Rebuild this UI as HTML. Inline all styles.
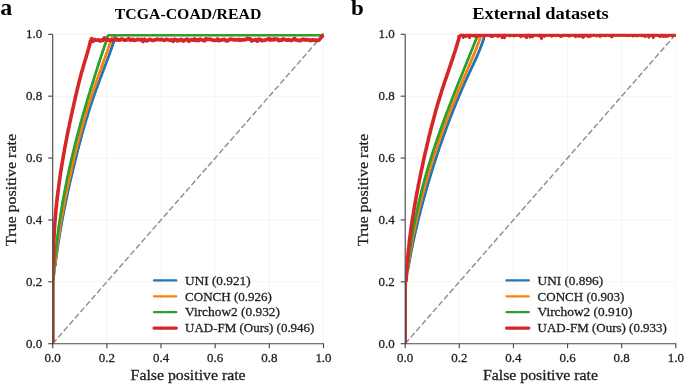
<!DOCTYPE html>
<html><head><meta charset="utf-8"><title>ROC curves</title>
<style>html,body{margin:0;padding:0;background:#fff;width:685px;height:384px;overflow:hidden}</style>
</head><body>
<svg width="685" height="384" viewBox="0 0 685 384" style="font-family:'Liberation Serif',serif;display:block;will-change:transform">
<style>.t{fill:#1e1e1e;stroke:#1e1e1e;stroke-width:0.28px}</style>
<rect width="685" height="384" fill="#fff"/>
<text x="0.2" y="14.9" font-size="24" font-weight="bold" fill="#000">a</text>
<text transform="translate(351.0,14.9) scale(1.1,1)" font-size="20.9" font-weight="bold" fill="#000">b</text>
<line x1="106.86" y1="34.3" x2="106.86" y2="343.7" stroke="#000" stroke-opacity="0.045" stroke-width="1"/>
<line x1="52.7" y1="281.82" x2="323.5" y2="281.82" stroke="#000" stroke-opacity="0.045" stroke-width="1"/>
<line x1="161.02" y1="34.3" x2="161.02" y2="343.7" stroke="#000" stroke-opacity="0.045" stroke-width="1"/>
<line x1="52.7" y1="219.94" x2="323.5" y2="219.94" stroke="#000" stroke-opacity="0.045" stroke-width="1"/>
<line x1="215.18" y1="34.3" x2="215.18" y2="343.7" stroke="#000" stroke-opacity="0.045" stroke-width="1"/>
<line x1="52.7" y1="158.06" x2="323.5" y2="158.06" stroke="#000" stroke-opacity="0.045" stroke-width="1"/>
<line x1="269.34" y1="34.3" x2="269.34" y2="343.7" stroke="#000" stroke-opacity="0.045" stroke-width="1"/>
<line x1="52.7" y1="96.18" x2="323.5" y2="96.18" stroke="#000" stroke-opacity="0.045" stroke-width="1"/>
<line x1="323.50" y1="34.3" x2="323.50" y2="343.7" stroke="#000" stroke-opacity="0.045" stroke-width="1"/>
<line x1="52.7" y1="34.30" x2="323.5" y2="34.30" stroke="#000" stroke-opacity="0.045" stroke-width="1"/>
<line x1="52.7" y1="343.7" x2="323.5" y2="34.3" stroke="#8c8c8c" stroke-width="1.4" stroke-dasharray="5.8,2.63"/>
<clipPath id="clipa"><rect x="52.7" y="30.299999999999997" width="274.8" height="313.4"/></clipPath>
<g clip-path="url(#clipa)">
<path d="M53.0,343.7L53.3,340.6L53.3,281.8" fill="none" stroke="#1f77b4" stroke-width="2.0"/><path d="M53.3,281.8L53.8,279.6L54.0,277.3L54.2,275.0L54.4,272.8L54.7,270.5L54.9,268.2L55.2,266.0L55.5,263.7L55.8,261.4L56.0,259.2L56.3,256.9L56.6,254.7L57.0,252.4L57.3,250.1L57.6,247.9L57.9,245.6L58.3,243.3L58.6,241.1L59.0,238.8L59.3,236.6L59.7,234.3L60.1,232.0L60.5,229.8L60.9,227.5L61.3,225.2L61.7,223.0L62.1,220.7L62.5,218.4L62.9,216.2L63.4,213.9L63.8,211.7L64.2,209.4L64.7,207.1L65.2,204.9L65.6,202.6L66.1,200.3L66.6,198.1L67.0,195.8L67.5,193.5L68.0,191.3L68.5,189.0L69.0,186.8L69.5,184.5L70.0,182.2L70.6,180.0L71.1,177.7L71.6,175.4L72.1,173.2L72.7,170.9L73.2,168.6L73.8,166.4L74.3,164.1L74.9,161.9L75.4,159.6L76.0,157.3L76.6,155.1L77.1,152.8L77.7,150.5L78.3,148.3L78.9,146.0L79.5,143.7L80.1,141.5L80.7,139.2L81.3,137.0L81.9,134.7L82.5,132.4L83.2,130.2L83.8,127.9L84.5,125.6L85.1,123.4L85.8,121.1L86.5,118.9L87.2,116.6L87.9,114.3L88.6,112.1L89.3,109.8L90.0,107.5L90.7,105.3L91.5,103.0L92.3,100.7L93.0,98.5L93.8,96.2L94.6,94.0L95.4,91.7L96.2,89.4L97.1,87.2L97.9,84.9L98.7,82.6L99.6,80.4L100.4,78.1L101.3,75.8L102.1,73.6L103.0,71.3L103.9,69.1L104.7,66.8L105.6,64.5L106.4,62.3L107.3,60.0L108.1,57.7L109.0,55.5L109.8,53.2L110.6,50.9L111.4,48.7L112.2,46.4L112.9,44.2L113.7,41.9L114.4,39.6L115.1,37.4L115.4,35.1" fill="none" stroke="#1f77b4" stroke-width="2.0" stroke-linejoin="round"/><path d="M55.2,266.0L55.5,263.7L55.8,261.4L56.0,259.2L56.3,256.9L56.6,254.7L57.0,252.4L57.3,250.1L57.6,247.9L57.9,245.6L58.3,243.3L58.6,241.1L59.0,238.8L59.3,236.6L59.7,234.3L60.1,232.0L60.5,229.8L60.9,227.5L61.3,225.2L61.7,223.0L62.1,220.7L62.5,218.4L62.9,216.2L63.4,213.9L63.8,211.7L64.2,209.4L64.7,207.1L65.2,204.9L65.6,202.6L66.1,200.3L66.6,198.1L67.0,195.8L67.5,193.5L68.0,191.3L68.5,189.0L69.0,186.8L69.5,184.5L70.0,182.2L70.6,180.0L71.1,177.7L71.6,175.4L72.1,173.2L72.7,170.9L73.2,168.6L73.8,166.4L74.3,164.1L74.9,161.9L75.4,159.6L76.0,157.3L76.6,155.1L77.1,152.8L77.7,150.5L78.3,148.3L78.9,146.0L79.5,143.7L80.1,141.5L80.7,139.2L81.3,137.0L81.9,134.7L82.5,132.4L83.2,130.2L83.8,127.9L84.5,125.6L85.1,123.4L85.8,121.1L86.5,118.9L87.2,116.6L87.9,114.3L88.6,112.1L89.3,109.8L90.0,107.5L90.7,105.3L91.5,103.0L92.3,100.7L93.0,98.5L93.8,96.2L94.6,94.0L95.4,91.7L96.2,89.4L97.1,87.2L97.9,84.9L98.7,82.6L99.6,80.4L100.4,78.1L101.3,75.8L102.1,73.6L103.0,71.3L103.9,69.1L104.7,66.8L105.6,64.5L106.4,62.3L107.3,60.0L108.1,57.7L109.0,55.5L109.8,53.2L110.6,50.9L111.4,48.7L112.2,46.4L112.9,44.2L113.7,41.9L114.4,39.6L115.1,37.4L115.4,35.1" fill="none" stroke="#1f77b4" stroke-width="2.7" stroke-linejoin="round"/><path d="M115.4,35.1L323.5,35.1" fill="none" stroke="#1f77b4" stroke-width="2.2" stroke-linejoin="round"/>
<path d="M53.0,343.7L53.3,340.6L53.3,281.8" fill="none" stroke="#ff7f0e" stroke-width="2.0"/><path d="M53.3,281.8L53.7,279.6L53.9,277.3L54.1,275.0L54.3,272.8L54.5,270.5L54.7,268.2L54.9,266.0L55.2,263.7L55.4,261.4L55.7,259.2L55.9,256.9L56.2,254.7L56.5,252.4L56.7,250.1L57.0,247.9L57.3,245.6L57.6,243.3L58.0,241.1L58.3,238.8L58.6,236.6L59.0,234.3L59.3,232.0L59.6,229.8L60.0,227.5L60.4,225.2L60.7,223.0L61.1,220.7L61.5,218.4L61.9,216.2L62.3,213.9L62.7,211.7L63.1,209.4L63.6,207.1L64.0,204.9L64.4,202.6L64.8,200.3L65.3,198.1L65.7,195.8L66.2,193.5L66.7,191.3L67.1,189.0L67.6,186.8L68.1,184.5L68.6,182.2L69.1,180.0L69.6,177.7L70.1,175.4L70.6,173.2L71.1,170.9L71.6,168.6L72.1,166.4L72.7,164.1L73.2,161.9L73.7,159.6L74.3,157.3L74.8,155.1L75.4,152.8L76.0,150.5L76.5,148.3L77.1,146.0L77.7,143.7L78.2,141.5L78.8,139.2L79.4,137.0L80.0,134.7L80.6,132.4L81.3,130.2L81.9,127.9L82.5,125.6L83.1,123.4L83.8,121.1L84.4,118.9L85.1,116.6L85.8,114.3L86.4,112.1L87.1,109.8L87.8,107.5L88.5,105.3L89.2,103.0L90.0,100.7L90.7,98.5L91.4,96.2L92.2,94.0L92.9,91.7L93.7,89.4L94.5,87.2L95.3,84.9L96.0,82.6L96.8,80.4L97.6,78.1L98.4,75.8L99.2,73.6L100.1,71.3L100.9,69.1L101.7,66.8L102.5,64.5L103.3,62.3L104.1,60.0L105.0,57.7L105.8,55.5L106.6,53.2L107.4,50.9L108.2,48.7L109.0,46.4L109.8,44.2L110.6,41.9L111.3,39.6L112.1,37.4L112.4,35.1" fill="none" stroke="#ff7f0e" stroke-width="2.0" stroke-linejoin="round"/><path d="M55.2,263.7L55.4,261.4L55.7,259.2L55.9,256.9L56.2,254.7L56.5,252.4L56.7,250.1L57.0,247.9L57.3,245.6L57.6,243.3L58.0,241.1L58.3,238.8L58.6,236.6L59.0,234.3L59.3,232.0L59.6,229.8L60.0,227.5L60.4,225.2L60.7,223.0L61.1,220.7L61.5,218.4L61.9,216.2L62.3,213.9L62.7,211.7L63.1,209.4L63.6,207.1L64.0,204.9L64.4,202.6L64.8,200.3L65.3,198.1L65.7,195.8L66.2,193.5L66.7,191.3L67.1,189.0L67.6,186.8L68.1,184.5L68.6,182.2L69.1,180.0L69.6,177.7L70.1,175.4L70.6,173.2L71.1,170.9L71.6,168.6L72.1,166.4L72.7,164.1L73.2,161.9L73.7,159.6L74.3,157.3L74.8,155.1L75.4,152.8L76.0,150.5L76.5,148.3L77.1,146.0L77.7,143.7L78.2,141.5L78.8,139.2L79.4,137.0L80.0,134.7L80.6,132.4L81.3,130.2L81.9,127.9L82.5,125.6L83.1,123.4L83.8,121.1L84.4,118.9L85.1,116.6L85.8,114.3L86.4,112.1L87.1,109.8L87.8,107.5L88.5,105.3L89.2,103.0L90.0,100.7L90.7,98.5L91.4,96.2L92.2,94.0L92.9,91.7L93.7,89.4L94.5,87.2L95.3,84.9L96.0,82.6L96.8,80.4L97.6,78.1L98.4,75.8L99.2,73.6L100.1,71.3L100.9,69.1L101.7,66.8L102.5,64.5L103.3,62.3L104.1,60.0L105.0,57.7L105.8,55.5L106.6,53.2L107.4,50.9L108.2,48.7L109.0,46.4L109.8,44.2L110.6,41.9L111.3,39.6L112.1,37.4L112.4,35.1" fill="none" stroke="#ff7f0e" stroke-width="2.7" stroke-linejoin="round"/><path d="M112.4,35.1L323.5,35.1" fill="none" stroke="#ff7f0e" stroke-width="2.2" stroke-linejoin="round"/>
<path d="M53.0,343.7L53.3,340.6L53.3,281.8" fill="none" stroke="#2ca02c" stroke-width="2.0"/><path d="M53.3,281.8L53.7,279.6L53.8,277.3L53.9,275.0L54.1,272.8L54.2,270.5L54.4,268.2L54.6,266.0L54.7,263.7L54.9,261.4L55.1,259.2L55.3,256.9L55.5,254.7L55.8,252.4L56.0,250.1L56.2,247.9L56.5,245.6L56.7,243.3L57.0,241.1L57.3,238.8L57.5,236.6L57.8,234.3L58.1,232.0L58.4,229.8L58.7,227.5L59.0,225.2L59.4,223.0L59.7,220.7L60.0,218.4L60.4,216.2L60.7,213.9L61.1,211.7L61.5,209.4L61.8,207.1L62.2,204.9L62.6,202.6L63.0,200.3L63.4,198.1L63.8,195.8L64.3,193.5L64.7,191.3L65.1,189.0L65.6,186.8L66.0,184.5L66.5,182.2L66.9,180.0L67.4,177.7L67.9,175.4L68.4,173.2L68.8,170.9L69.3,168.6L69.8,166.4L70.4,164.1L70.9,161.9L71.4,159.6L71.9,157.3L72.5,155.1L73.0,152.8L73.6,150.5L74.1,148.3L74.7,146.0L75.3,143.7L75.8,141.5L76.4,139.2L77.0,137.0L77.6,134.7L78.2,132.4L78.8,130.2L79.4,127.9L80.0,125.6L80.6,123.4L81.3,121.1L81.9,118.9L82.5,116.6L83.2,114.3L83.8,112.1L84.5,109.8L85.1,107.5L85.8,105.3L86.5,103.0L87.1,100.7L87.8,98.5L88.5,96.2L89.2,94.0L89.9,91.7L90.6,89.4L91.3,87.2L92.0,84.9L92.7,82.6L93.4,80.4L94.1,78.1L94.8,75.8L95.5,73.6L96.3,71.3L97.0,69.1L97.7,66.8L98.4,64.5L99.2,62.3L99.9,60.0L100.7,57.7L101.4,55.5L102.2,53.2L102.9,50.9L103.7,48.7L104.4,46.4L105.2,44.2L106.0,41.9L106.7,39.6L107.5,37.4L107.8,35.1" fill="none" stroke="#2ca02c" stroke-width="2.0" stroke-linejoin="round"/><path d="M55.3,256.9L55.5,254.7L55.8,252.4L56.0,250.1L56.2,247.9L56.5,245.6L56.7,243.3L57.0,241.1L57.3,238.8L57.5,236.6L57.8,234.3L58.1,232.0L58.4,229.8L58.7,227.5L59.0,225.2L59.4,223.0L59.7,220.7L60.0,218.4L60.4,216.2L60.7,213.9L61.1,211.7L61.5,209.4L61.8,207.1L62.2,204.9L62.6,202.6L63.0,200.3L63.4,198.1L63.8,195.8L64.3,193.5L64.7,191.3L65.1,189.0L65.6,186.8L66.0,184.5L66.5,182.2L66.9,180.0L67.4,177.7L67.9,175.4L68.4,173.2L68.8,170.9L69.3,168.6L69.8,166.4L70.4,164.1L70.9,161.9L71.4,159.6L71.9,157.3L72.5,155.1L73.0,152.8L73.6,150.5L74.1,148.3L74.7,146.0L75.3,143.7L75.8,141.5L76.4,139.2L77.0,137.0L77.6,134.7L78.2,132.4L78.8,130.2L79.4,127.9L80.0,125.6L80.6,123.4L81.3,121.1L81.9,118.9L82.5,116.6L83.2,114.3L83.8,112.1L84.5,109.8L85.1,107.5L85.8,105.3L86.5,103.0L87.1,100.7L87.8,98.5L88.5,96.2L89.2,94.0L89.9,91.7L90.6,89.4L91.3,87.2L92.0,84.9L92.7,82.6L93.4,80.4L94.1,78.1L94.8,75.8L95.5,73.6L96.3,71.3L97.0,69.1L97.7,66.8L98.4,64.5L99.2,62.3L99.9,60.0L100.7,57.7L101.4,55.5L102.2,53.2L102.9,50.9L103.7,48.7L104.4,46.4L105.2,44.2L106.0,41.9L106.7,39.6L107.5,37.4L107.8,35.1" fill="none" stroke="#2ca02c" stroke-width="2.7" stroke-linejoin="round"/><path d="M107.8,35.1L323.5,35.1" fill="none" stroke="#2ca02c" stroke-width="2.2" stroke-linejoin="round"/>
<path d="M53.0,343.7L53.3,340.6L53.3,266.4" fill="none" stroke="#d62728" stroke-width="2.0"/><path d="M53.3,266.4L53.4,264.3L53.4,262.2L53.4,260.1L53.4,258.0L53.5,256.0L53.5,253.9L53.5,251.8L53.6,249.7L53.6,247.6L53.7,245.6L53.7,243.5L53.8,241.4L53.9,239.3L54.0,237.3L54.1,235.2L54.2,233.1L54.3,231.0L54.5,228.9L54.6,226.9L54.7,224.8L54.9,222.7L55.0,220.6L55.2,218.6L55.4,216.5L55.6,214.4L55.8,212.3L55.9,210.2L56.1,208.2L56.4,206.1L56.6,204.0L56.8,201.9L57.0,199.9L57.3,197.8L57.5,195.7L57.8,193.6L58.0,191.5L58.3,189.5L58.6,187.4L58.8,185.3L59.1,183.2L59.4,181.2L59.7,179.1L60.0,177.0L60.3,174.9L60.6,172.8L60.9,170.8L61.3,168.7L61.6,166.6L61.9,164.5L62.3,162.5L62.6,160.4L63.0,158.3L63.3,156.2L63.7,154.1L64.1,152.1L64.4,150.0L64.8,147.9L65.2,145.8L65.6,143.8L66.0,141.7L66.4,139.6L66.8,137.5L67.2,135.4L67.6,133.4L68.0,131.3L68.4,129.2L68.9,127.1L69.3,125.1L69.7,123.0L70.2,120.9L70.6,118.8L71.1,116.7L71.5,114.7L72.0,112.6L72.4,110.5L72.9,108.4L73.4,106.4L73.8,104.3L74.3,102.2L74.8,100.1L75.2,98.0L75.7,96.0L76.2,93.9L76.7,91.8L77.2,89.7L77.7,87.7L78.2,85.6L78.7,83.5L79.2,81.4L79.8,79.3L80.3,77.3L80.8,75.2L81.4,73.1L82.0,71.0L82.6,69.0L83.2,66.9L83.8,64.8L84.4,62.7L85.0,60.6L85.7,58.6L86.3,56.5L86.9,54.4L87.5,52.3L88.1,50.3L88.7,48.2L89.3,46.1L89.8,44.0L90.3,41.9L90.5,39.9" fill="none" stroke="#d62728" stroke-width="2.0" stroke-linejoin="round"/><path d="M53.3,266.4L53.4,264.3L53.4,262.2L53.4,260.1L53.4,258.0L53.5,256.0L53.5,253.9L53.5,251.8L53.6,249.7L53.6,247.6L53.7,245.6L53.7,243.5L53.8,241.4L53.9,239.3L54.0,237.3L54.1,235.2L54.2,233.1L54.3,231.0L54.5,228.9L54.6,226.9L54.7,224.8L54.9,222.7L55.0,220.6L55.2,218.6L55.4,216.5L55.6,214.4L55.8,212.3L55.9,210.2L56.1,208.2L56.4,206.1L56.6,204.0L56.8,201.9L57.0,199.9L57.3,197.8L57.5,195.7L57.8,193.6L58.0,191.5L58.3,189.5L58.6,187.4L58.8,185.3L59.1,183.2L59.4,181.2L59.7,179.1L60.0,177.0L60.3,174.9L60.6,172.8L60.9,170.8L61.3,168.7L61.6,166.6L61.9,164.5L62.3,162.5L62.6,160.4L63.0,158.3L63.3,156.2L63.7,154.1L64.1,152.1L64.4,150.0L64.8,147.9L65.2,145.8L65.6,143.8L66.0,141.7L66.4,139.6L66.8,137.5L67.2,135.4L67.6,133.4L68.0,131.3L68.4,129.2L68.9,127.1L69.3,125.1L69.7,123.0L70.2,120.9L70.6,118.8L71.1,116.7L71.5,114.7L72.0,112.6L72.4,110.5L72.9,108.4L73.4,106.4L73.8,104.3L74.3,102.2L74.8,100.1L75.2,98.0L75.7,96.0L76.2,93.9L76.7,91.8L77.2,89.7L77.7,87.7L78.2,85.6L78.7,83.5L79.2,81.4L79.8,79.3L80.3,77.3L80.8,75.2L81.4,73.1L82.0,71.0L82.6,69.0L83.2,66.9L83.8,64.8L84.4,62.7L85.0,60.6L85.7,58.6L86.3,56.5L86.9,54.4L87.5,52.3L88.1,50.3L88.7,48.2L89.3,46.1L89.8,44.0L90.3,41.9L90.5,39.9" fill="none" stroke="#d62728" stroke-width="3.6" stroke-linejoin="round"/><path d="M90.5,39.9L91.6,38.7L93.0,41.3L94.4,39.6L95.8,40.2L97.3,40.1L98.7,40.0L100.1,41.0L101.6,40.0L103.0,40.4L104.4,38.0L105.9,39.7L107.3,40.1L108.7,40.0L110.1,40.2L111.6,40.5L113.0,40.1L114.4,39.6L115.9,40.0L117.3,39.3L118.7,40.0L120.2,39.9L121.6,39.0L123.0,39.6L124.4,40.2L125.9,40.0L127.3,39.6L128.7,38.8L130.2,40.0L131.6,40.0L133.0,39.3L134.5,40.4L135.9,40.0L137.3,39.4L138.7,39.5L140.2,39.8L141.6,39.5L143.0,41.4L144.5,39.3L145.9,40.4L147.3,40.8L148.8,39.7L150.2,39.5L151.6,40.1L153.0,40.5L154.5,39.9L155.9,39.9L157.3,39.1L158.8,39.5L160.2,39.8L161.6,39.3L163.0,40.0L164.5,40.4L165.9,39.5L167.3,39.5L168.8,40.0L170.2,40.3L171.6,39.7L173.1,41.3L174.5,39.5L175.9,39.6L177.3,40.8L178.8,39.8L180.2,40.4L181.6,39.4L183.1,41.0L184.5,40.4L185.9,39.5L187.4,39.2L188.8,41.1L190.2,40.1L191.6,39.7L193.1,40.2L194.5,39.0L195.9,40.5L197.4,39.7L198.8,40.5L200.2,39.1L201.7,39.9L203.1,40.1L204.5,40.8L205.9,38.9L207.4,39.4L208.8,39.4L210.2,39.2L211.7,39.7L213.1,40.2L214.5,40.3L216.0,40.3L217.4,39.1L218.8,40.7L220.2,40.2L221.7,40.0L223.1,39.7L224.5,39.5L226.0,40.6L227.4,40.8L228.8,39.9L230.2,39.2L231.7,39.4L233.1,39.7L234.5,40.0L236.0,39.7L237.4,40.0L238.8,39.4L240.3,40.3L241.7,39.8L243.1,39.9L244.5,39.6L246.0,39.7L247.4,38.4L248.8,39.0L250.3,39.0L251.7,41.0L253.1,40.1L254.6,40.2L256.0,39.6L257.4,41.1L258.8,39.2L260.3,39.3L261.7,40.6L263.1,40.4L264.6,40.3L266.0,39.8L267.4,39.5L268.9,38.7L270.3,40.0L271.7,39.4L273.1,39.8L274.6,38.9L276.0,39.5L277.4,39.1L278.9,40.5L280.3,40.0L281.7,40.3L283.2,39.0L284.6,39.5L286.0,40.0L287.4,40.1L288.9,39.6L290.3,40.3L291.7,40.4L293.2,39.6L294.6,38.5L296.0,40.0L297.4,40.2L298.9,40.5L300.3,40.6L301.7,39.6L303.2,39.4L304.6,39.9L306.0,39.7L307.5,39.8L308.9,39.8L310.3,40.7L311.7,40.1L313.2,39.8L314.6,40.3L316.0,40.1L317.5,40.3L318.9,40.1L323.1,35.1L323.5,35.1" fill="none" stroke="#d62728" stroke-width="3.8" stroke-linejoin="round"/>
</g>
<line x1="52.7" y1="34.3" x2="52.7" y2="344.2" stroke="#4a4a4a" stroke-width="1.15"/>
<line x1="52.2" y1="343.7" x2="324.0" y2="343.7" stroke="#4a4a4a" stroke-width="1.15"/>
<line x1="52.70" y1="343.7" x2="52.70" y2="348.2" stroke="#4a4a4a" stroke-width="1.15"/>
<text x="52.70" y="362.0" text-anchor="middle" font-size="13.2" textLength="16.2" lengthAdjust="spacingAndGlyphs" class="t">0.0</text>
<line x1="48.2" y1="343.70" x2="52.7" y2="343.70" stroke="#4a4a4a" stroke-width="1.15"/>
<text x="42.2" y="347.70" text-anchor="end" font-size="13.2" textLength="16.2" lengthAdjust="spacingAndGlyphs" class="t">0.0</text>
<line x1="106.86" y1="343.7" x2="106.86" y2="348.2" stroke="#4a4a4a" stroke-width="1.15"/>
<text x="106.86" y="362.0" text-anchor="middle" font-size="13.2" textLength="16.2" lengthAdjust="spacingAndGlyphs" class="t">0.2</text>
<line x1="48.2" y1="281.82" x2="52.7" y2="281.82" stroke="#4a4a4a" stroke-width="1.15"/>
<text x="42.2" y="285.82" text-anchor="end" font-size="13.2" textLength="16.2" lengthAdjust="spacingAndGlyphs" class="t">0.2</text>
<line x1="161.02" y1="343.7" x2="161.02" y2="348.2" stroke="#4a4a4a" stroke-width="1.15"/>
<text x="161.02" y="362.0" text-anchor="middle" font-size="13.2" textLength="16.2" lengthAdjust="spacingAndGlyphs" class="t">0.4</text>
<line x1="48.2" y1="219.94" x2="52.7" y2="219.94" stroke="#4a4a4a" stroke-width="1.15"/>
<text x="42.2" y="223.94" text-anchor="end" font-size="13.2" textLength="16.2" lengthAdjust="spacingAndGlyphs" class="t">0.4</text>
<line x1="215.18" y1="343.7" x2="215.18" y2="348.2" stroke="#4a4a4a" stroke-width="1.15"/>
<text x="215.18" y="362.0" text-anchor="middle" font-size="13.2" textLength="16.2" lengthAdjust="spacingAndGlyphs" class="t">0.6</text>
<line x1="48.2" y1="158.06" x2="52.7" y2="158.06" stroke="#4a4a4a" stroke-width="1.15"/>
<text x="42.2" y="162.06" text-anchor="end" font-size="13.2" textLength="16.2" lengthAdjust="spacingAndGlyphs" class="t">0.6</text>
<line x1="269.34" y1="343.7" x2="269.34" y2="348.2" stroke="#4a4a4a" stroke-width="1.15"/>
<text x="269.34" y="362.0" text-anchor="middle" font-size="13.2" textLength="16.2" lengthAdjust="spacingAndGlyphs" class="t">0.8</text>
<line x1="48.2" y1="96.18" x2="52.7" y2="96.18" stroke="#4a4a4a" stroke-width="1.15"/>
<text x="42.2" y="100.18" text-anchor="end" font-size="13.2" textLength="16.2" lengthAdjust="spacingAndGlyphs" class="t">0.8</text>
<line x1="323.50" y1="343.7" x2="323.50" y2="348.2" stroke="#4a4a4a" stroke-width="1.15"/>
<text x="323.50" y="362.0" text-anchor="middle" font-size="13.2" textLength="16.2" lengthAdjust="spacingAndGlyphs" class="t">1.0</text>
<line x1="48.2" y1="34.30" x2="52.7" y2="34.30" stroke="#4a4a4a" stroke-width="1.15"/>
<text x="42.2" y="38.30" text-anchor="end" font-size="13.2" textLength="16.2" lengthAdjust="spacingAndGlyphs" class="t">1.0</text>
<text x="188.10" y="19.2" text-anchor="middle" font-size="15.6" font-weight="bold" textLength="146.5" lengthAdjust="spacingAndGlyphs" fill="#000">TCGA-COAD/READ</text>
<text x="188.10" y="380.3" text-anchor="middle" font-size="13.9" textLength="115" lengthAdjust="spacingAndGlyphs" class="t">False positive rate</text>
<text transform="translate(15.60,190.00) rotate(-90)" x="0" y="0" text-anchor="middle" font-size="13.9" textLength="112" lengthAdjust="spacingAndGlyphs" class="t">True positive rate</text>
<line x1="154.00" y1="280.40" x2="176.30" y2="280.40" stroke="#1f77b4" stroke-width="2.3" stroke-linecap="round"/>
<text x="185.10" y="284.60" font-size="12.6" textLength="65.5" lengthAdjust="spacingAndGlyphs" class="t">UNI (0.921)</text>
<line x1="154.00" y1="296.30" x2="176.30" y2="296.30" stroke="#ff7f0e" stroke-width="2.3" stroke-linecap="round"/>
<text x="185.10" y="300.50" font-size="12.6" textLength="86.8" lengthAdjust="spacingAndGlyphs" class="t">CONCH (0.926)</text>
<line x1="154.00" y1="312.20" x2="176.30" y2="312.20" stroke="#2ca02c" stroke-width="2.3" stroke-linecap="round"/>
<text x="185.10" y="316.40" font-size="12.6" textLength="94.9" lengthAdjust="spacingAndGlyphs" class="t">Virchow2 (0.932)</text>
<line x1="154.00" y1="328.10" x2="176.30" y2="328.10" stroke="#d62728" stroke-width="3.3" stroke-linecap="round"/>
<text x="185.10" y="332.30" font-size="12.6" textLength="129.3" lengthAdjust="spacingAndGlyphs" class="t">UAD-FM (Ours) (0.946)</text>
<line x1="459.32" y1="34.3" x2="459.32" y2="343.7" stroke="#000" stroke-opacity="0.045" stroke-width="1"/>
<line x1="405.2" y1="281.82" x2="675.8" y2="281.82" stroke="#000" stroke-opacity="0.045" stroke-width="1"/>
<line x1="513.44" y1="34.3" x2="513.44" y2="343.7" stroke="#000" stroke-opacity="0.045" stroke-width="1"/>
<line x1="405.2" y1="219.94" x2="675.8" y2="219.94" stroke="#000" stroke-opacity="0.045" stroke-width="1"/>
<line x1="567.56" y1="34.3" x2="567.56" y2="343.7" stroke="#000" stroke-opacity="0.045" stroke-width="1"/>
<line x1="405.2" y1="158.06" x2="675.8" y2="158.06" stroke="#000" stroke-opacity="0.045" stroke-width="1"/>
<line x1="621.68" y1="34.3" x2="621.68" y2="343.7" stroke="#000" stroke-opacity="0.045" stroke-width="1"/>
<line x1="405.2" y1="96.18" x2="675.8" y2="96.18" stroke="#000" stroke-opacity="0.045" stroke-width="1"/>
<line x1="675.80" y1="34.3" x2="675.80" y2="343.7" stroke="#000" stroke-opacity="0.045" stroke-width="1"/>
<line x1="405.2" y1="34.30" x2="675.8" y2="34.30" stroke="#000" stroke-opacity="0.045" stroke-width="1"/>
<line x1="405.2" y1="343.7" x2="675.8" y2="34.3" stroke="#8c8c8c" stroke-width="1.4" stroke-dasharray="5.8,2.63"/>
<clipPath id="clipb"><rect x="405.2" y="30.299999999999997" width="274.59999999999997" height="313.4"/></clipPath>
<g clip-path="url(#clipb)">
<path d="M405.5,343.7L405.8,340.6L405.8,281.8" fill="none" stroke="#1f77b4" stroke-width="2.0"/><path d="M405.8,281.8L406.4,279.6L406.7,277.3L407.1,275.0L407.4,272.8L407.8,270.5L408.2,268.2L408.6,266.0L409.0,263.7L409.4,261.5L409.8,259.2L410.2,256.9L410.6,254.7L411.1,252.4L411.5,250.1L412.0,247.9L412.5,245.6L412.9,243.4L413.4,241.1L413.9,238.8L414.4,236.6L414.9,234.3L415.4,232.0L415.9,229.8L416.5,227.5L417.0,225.3L417.5,223.0L418.1,220.7L418.6,218.5L419.2,216.2L419.8,214.0L420.3,211.7L420.9,209.4L421.5,207.2L422.1,204.9L422.7,202.6L423.3,200.4L423.9,198.1L424.6,195.9L425.2,193.6L425.8,191.3L426.5,189.1L427.1,186.8L427.8,184.5L428.5,182.3L429.1,180.0L429.8,177.8L430.5,175.5L431.2,173.2L431.9,171.0L432.6,168.7L433.3,166.4L434.0,164.2L434.8,161.9L435.5,159.7L436.2,157.4L437.0,155.1L437.7,152.9L438.5,150.6L439.2,148.3L440.0,146.1L440.8,143.8L441.6,141.6L442.4,139.3L443.2,137.0L444.0,134.8L444.8,132.5L445.6,130.2L446.4,128.0L447.3,125.7L448.1,123.5L449.0,121.2L449.8,118.9L450.7,116.7L451.6,114.4L452.5,112.1L453.4,109.9L454.3,107.6L455.2,105.4L456.1,103.1L457.0,100.8L458.0,98.6L458.9,96.3L459.9,94.0L460.9,91.8L461.8,89.5L462.8,87.3L463.8,85.0L464.8,82.7L465.8,80.5L466.9,78.2L467.9,75.9L468.9,73.7L470.0,71.4L471.1,69.2L472.1,66.9L473.2,64.6L474.2,62.4L475.3,60.1L476.3,57.9L477.3,55.6L478.2,53.3L479.2,51.1L480.1,48.8L481.0,46.5L481.8,44.3L482.6,42.0L483.4,39.8L484.0,37.5L484.5,35.2" fill="none" stroke="#1f77b4" stroke-width="2.0" stroke-linejoin="round"/><path d="M407.8,270.5L408.2,268.2L408.6,266.0L409.0,263.7L409.4,261.5L409.8,259.2L410.2,256.9L410.6,254.7L411.1,252.4L411.5,250.1L412.0,247.9L412.5,245.6L412.9,243.4L413.4,241.1L413.9,238.8L414.4,236.6L414.9,234.3L415.4,232.0L415.9,229.8L416.5,227.5L417.0,225.3L417.5,223.0L418.1,220.7L418.6,218.5L419.2,216.2L419.8,214.0L420.3,211.7L420.9,209.4L421.5,207.2L422.1,204.9L422.7,202.6L423.3,200.4L423.9,198.1L424.6,195.9L425.2,193.6L425.8,191.3L426.5,189.1L427.1,186.8L427.8,184.5L428.5,182.3L429.1,180.0L429.8,177.8L430.5,175.5L431.2,173.2L431.9,171.0L432.6,168.7L433.3,166.4L434.0,164.2L434.8,161.9L435.5,159.7L436.2,157.4L437.0,155.1L437.7,152.9L438.5,150.6L439.2,148.3L440.0,146.1L440.8,143.8L441.6,141.6L442.4,139.3L443.2,137.0L444.0,134.8L444.8,132.5L445.6,130.2L446.4,128.0L447.3,125.7L448.1,123.5L449.0,121.2L449.8,118.9L450.7,116.7L451.6,114.4L452.5,112.1L453.4,109.9L454.3,107.6L455.2,105.4L456.1,103.1L457.0,100.8L458.0,98.6L458.9,96.3L459.9,94.0L460.9,91.8L461.8,89.5L462.8,87.3L463.8,85.0L464.8,82.7L465.8,80.5L466.9,78.2L467.9,75.9L468.9,73.7L470.0,71.4L471.1,69.2L472.1,66.9L473.2,64.6L474.2,62.4L475.3,60.1L476.3,57.9L477.3,55.6L478.2,53.3L479.2,51.1L480.1,48.8L481.0,46.5L481.8,44.3L482.6,42.0L483.4,39.8L484.0,37.5L484.5,35.2" fill="none" stroke="#1f77b4" stroke-width="2.7" stroke-linejoin="round"/><path d="M484.5,35.2L675.8,35.2" fill="none" stroke="#1f77b4" stroke-width="2.2" stroke-linejoin="round"/>
<path d="M405.5,343.7L405.8,340.6L405.8,281.8" fill="none" stroke="#ff7f0e" stroke-width="2.0"/><path d="M405.8,281.8L406.3,279.6L406.5,277.3L406.8,275.0L407.1,272.8L407.4,270.5L407.8,268.2L408.1,266.0L408.4,263.7L408.7,261.5L409.1,259.2L409.5,256.9L409.8,254.7L410.2,252.4L410.6,250.1L411.0,247.9L411.4,245.6L411.8,243.4L412.2,241.1L412.6,238.8L413.0,236.6L413.5,234.3L413.9,232.0L414.4,229.8L414.9,227.5L415.3,225.3L415.8,223.0L416.3,220.7L416.8,218.5L417.3,216.2L417.8,214.0L418.4,211.7L418.9,209.4L419.4,207.2L420.0,204.9L420.5,202.6L421.1,200.4L421.7,198.1L422.3,195.9L422.9,193.6L423.5,191.3L424.1,189.1L424.7,186.8L425.3,184.5L426.0,182.3L426.6,180.0L427.3,177.8L427.9,175.5L428.6,173.2L429.3,171.0L430.0,168.7L430.7,166.4L431.4,164.2L432.1,161.9L432.8,159.7L433.5,157.4L434.3,155.1L435.0,152.9L435.8,150.6L436.6,148.3L437.3,146.1L438.1,143.8L438.9,141.6L439.7,139.3L440.5,137.0L441.3,134.8L442.1,132.5L443.0,130.2L443.8,128.0L444.6,125.7L445.5,123.5L446.3,121.2L447.2,118.9L448.1,116.7L449.0,114.4L449.8,112.1L450.7,109.9L451.6,107.6L452.5,105.4L453.4,103.1L454.3,100.8L455.3,98.6L456.2,96.3L457.1,94.0L458.0,91.8L459.0,89.5L459.9,87.3L460.9,85.0L461.8,82.7L462.8,80.5L463.8,78.2L464.7,75.9L465.7,73.7L466.7,71.4L467.7,69.2L468.6,66.9L469.6,64.6L470.6,62.4L471.5,60.1L472.5,57.9L473.4,55.6L474.4,53.3L475.3,51.1L476.2,48.8L477.1,46.5L477.9,44.3L478.8,42.0L479.6,39.8L480.3,37.5L480.7,35.2" fill="none" stroke="#ff7f0e" stroke-width="2.0" stroke-linejoin="round"/><path d="M407.8,268.2L408.1,266.0L408.4,263.7L408.7,261.5L409.1,259.2L409.5,256.9L409.8,254.7L410.2,252.4L410.6,250.1L411.0,247.9L411.4,245.6L411.8,243.4L412.2,241.1L412.6,238.8L413.0,236.6L413.5,234.3L413.9,232.0L414.4,229.8L414.9,227.5L415.3,225.3L415.8,223.0L416.3,220.7L416.8,218.5L417.3,216.2L417.8,214.0L418.4,211.7L418.9,209.4L419.4,207.2L420.0,204.9L420.5,202.6L421.1,200.4L421.7,198.1L422.3,195.9L422.9,193.6L423.5,191.3L424.1,189.1L424.7,186.8L425.3,184.5L426.0,182.3L426.6,180.0L427.3,177.8L427.9,175.5L428.6,173.2L429.3,171.0L430.0,168.7L430.7,166.4L431.4,164.2L432.1,161.9L432.8,159.7L433.5,157.4L434.3,155.1L435.0,152.9L435.8,150.6L436.6,148.3L437.3,146.1L438.1,143.8L438.9,141.6L439.7,139.3L440.5,137.0L441.3,134.8L442.1,132.5L443.0,130.2L443.8,128.0L444.6,125.7L445.5,123.5L446.3,121.2L447.2,118.9L448.1,116.7L449.0,114.4L449.8,112.1L450.7,109.9L451.6,107.6L452.5,105.4L453.4,103.1L454.3,100.8L455.3,98.6L456.2,96.3L457.1,94.0L458.0,91.8L459.0,89.5L459.9,87.3L460.9,85.0L461.8,82.7L462.8,80.5L463.8,78.2L464.7,75.9L465.7,73.7L466.7,71.4L467.7,69.2L468.6,66.9L469.6,64.6L470.6,62.4L471.5,60.1L472.5,57.9L473.4,55.6L474.4,53.3L475.3,51.1L476.2,48.8L477.1,46.5L477.9,44.3L478.8,42.0L479.6,39.8L480.3,37.5L480.7,35.2" fill="none" stroke="#ff7f0e" stroke-width="2.7" stroke-linejoin="round"/><path d="M480.7,35.2L675.8,35.2" fill="none" stroke="#ff7f0e" stroke-width="2.2" stroke-linejoin="round"/>
<path d="M405.5,343.7L405.8,340.6L405.8,281.8" fill="none" stroke="#2ca02c" stroke-width="2.0"/><path d="M405.8,281.8L406.2,279.6L406.5,277.3L406.7,275.0L406.9,272.8L407.2,270.5L407.4,268.2L407.7,266.0L408.0,263.7L408.2,261.5L408.5,259.2L408.8,256.9L409.2,254.7L409.5,252.4L409.8,250.1L410.1,247.9L410.5,245.6L410.8,243.4L411.2,241.1L411.6,238.8L412.0,236.6L412.4,234.3L412.8,232.0L413.2,229.8L413.6,227.5L414.0,225.3L414.4,223.0L414.9,220.7L415.4,218.5L415.8,216.2L416.3,214.0L416.8,211.7L417.3,209.4L417.8,207.2L418.3,204.9L418.8,202.6L419.3,200.4L419.9,198.1L420.4,195.9L421.0,193.6L421.5,191.3L422.1,189.1L422.7,186.8L423.3,184.5L423.9,182.3L424.5,180.0L425.1,177.8L425.8,175.5L426.4,173.2L427.1,171.0L427.7,168.7L428.4,166.4L429.1,164.2L429.8,161.9L430.5,159.7L431.2,157.4L431.9,155.1L432.6,152.9L433.3,150.6L434.1,148.3L434.8,146.1L435.6,143.8L436.4,141.6L437.1,139.3L437.9,137.0L438.7,134.8L439.5,132.5L440.3,130.2L441.1,128.0L442.0,125.7L442.8,123.5L443.6,121.2L444.4,118.9L445.3,116.7L446.1,114.4L447.0,112.1L447.9,109.9L448.7,107.6L449.6,105.4L450.5,103.1L451.4,100.8L452.2,98.6L453.1,96.3L454.0,94.0L454.9,91.8L455.8,89.5L456.7,87.3L457.6,85.0L458.5,82.7L459.4,80.5L460.4,78.2L461.3,75.9L462.2,73.7L463.1,71.4L464.0,69.2L465.0,66.9L465.9,64.6L466.8,62.4L467.7,60.1L468.7,57.9L469.6,55.6L470.5,53.3L471.4,51.1L472.3,48.8L473.2,46.5L474.1,44.3L475.0,42.0L475.9,39.8L476.8,37.5L477.2,35.2" fill="none" stroke="#2ca02c" stroke-width="2.0" stroke-linejoin="round"/><path d="M407.7,266.0L408.0,263.7L408.2,261.5L408.5,259.2L408.8,256.9L409.2,254.7L409.5,252.4L409.8,250.1L410.1,247.9L410.5,245.6L410.8,243.4L411.2,241.1L411.6,238.8L412.0,236.6L412.4,234.3L412.8,232.0L413.2,229.8L413.6,227.5L414.0,225.3L414.4,223.0L414.9,220.7L415.4,218.5L415.8,216.2L416.3,214.0L416.8,211.7L417.3,209.4L417.8,207.2L418.3,204.9L418.8,202.6L419.3,200.4L419.9,198.1L420.4,195.9L421.0,193.6L421.5,191.3L422.1,189.1L422.7,186.8L423.3,184.5L423.9,182.3L424.5,180.0L425.1,177.8L425.8,175.5L426.4,173.2L427.1,171.0L427.7,168.7L428.4,166.4L429.1,164.2L429.8,161.9L430.5,159.7L431.2,157.4L431.9,155.1L432.6,152.9L433.3,150.6L434.1,148.3L434.8,146.1L435.6,143.8L436.4,141.6L437.1,139.3L437.9,137.0L438.7,134.8L439.5,132.5L440.3,130.2L441.1,128.0L442.0,125.7L442.8,123.5L443.6,121.2L444.4,118.9L445.3,116.7L446.1,114.4L447.0,112.1L447.9,109.9L448.7,107.6L449.6,105.4L450.5,103.1L451.4,100.8L452.2,98.6L453.1,96.3L454.0,94.0L454.9,91.8L455.8,89.5L456.7,87.3L457.6,85.0L458.5,82.7L459.4,80.5L460.4,78.2L461.3,75.9L462.2,73.7L463.1,71.4L464.0,69.2L465.0,66.9L465.9,64.6L466.8,62.4L467.7,60.1L468.7,57.9L469.6,55.6L470.5,53.3L471.4,51.1L472.3,48.8L473.2,46.5L474.1,44.3L475.0,42.0L475.9,39.8L476.8,37.5L477.2,35.2" fill="none" stroke="#2ca02c" stroke-width="2.7" stroke-linejoin="round"/><path d="M477.2,35.2L675.8,35.2" fill="none" stroke="#2ca02c" stroke-width="2.2" stroke-linejoin="round"/>
<path d="M405.5,343.7L405.8,340.6L405.8,281.8" fill="none" stroke="#d62728" stroke-width="2.0"/><path d="M405.8,281.8L406.2,279.6L406.3,277.3L406.4,275.0L406.5,272.8L406.7,270.5L406.8,268.2L407.0,266.0L407.2,263.7L407.4,261.5L407.6,259.2L407.8,256.9L408.0,254.7L408.2,252.4L408.4,250.1L408.7,247.9L408.9,245.6L409.2,243.4L409.4,241.1L409.7,238.8L410.0,236.6L410.3,234.3L410.6,232.0L410.9,229.8L411.2,227.5L411.5,225.3L411.9,223.0L412.2,220.7L412.5,218.5L412.9,216.2L413.3,214.0L413.6,211.7L414.0,209.4L414.4,207.2L414.8,204.9L415.2,202.6L415.6,200.4L416.0,198.1L416.4,195.9L416.8,193.6L417.2,191.3L417.7,189.1L418.1,186.8L418.5,184.5L419.0,182.3L419.4,180.0L419.9,177.8L420.4,175.5L420.8,173.2L421.3,171.0L421.8,168.7L422.3,166.4L422.8,164.2L423.2,161.9L423.7,159.7L424.2,157.4L424.7,155.1L425.2,152.9L425.8,150.6L426.3,148.3L426.8,146.1L427.3,143.8L427.9,141.6L428.4,139.3L428.9,137.0L429.5,134.8L430.1,132.5L430.6,130.2L431.2,128.0L431.8,125.7L432.4,123.5L433.0,121.2L433.6,118.9L434.2,116.7L434.8,114.4L435.4,112.1L436.0,109.9L436.7,107.6L437.3,105.4L438.0,103.1L438.7,100.8L439.4,98.6L440.1,96.3L440.8,94.0L441.5,91.8L442.2,89.5L442.9,87.3L443.7,85.0L444.4,82.7L445.2,80.5L446.0,78.2L446.7,75.9L447.5,73.7L448.3,71.4L449.0,69.2L449.8,66.9L450.6,64.6L451.3,62.4L452.1,60.1L452.9,57.9L453.6,55.6L454.3,53.3L455.1,51.1L455.8,48.8L456.5,46.5L457.2,44.3L457.8,42.0L458.5,39.8L459.1,37.5L459.3,35.2" fill="none" stroke="#d62728" stroke-width="2.0" stroke-linejoin="round"/><path d="M405.8,281.8L406.2,279.6L406.3,277.3L406.4,275.0L406.5,272.8L406.7,270.5L406.8,268.2L407.0,266.0L407.2,263.7L407.4,261.5L407.6,259.2L407.8,256.9L408.0,254.7L408.2,252.4L408.4,250.1L408.7,247.9L408.9,245.6L409.2,243.4L409.4,241.1L409.7,238.8L410.0,236.6L410.3,234.3L410.6,232.0L410.9,229.8L411.2,227.5L411.5,225.3L411.9,223.0L412.2,220.7L412.5,218.5L412.9,216.2L413.3,214.0L413.6,211.7L414.0,209.4L414.4,207.2L414.8,204.9L415.2,202.6L415.6,200.4L416.0,198.1L416.4,195.9L416.8,193.6L417.2,191.3L417.7,189.1L418.1,186.8L418.5,184.5L419.0,182.3L419.4,180.0L419.9,177.8L420.4,175.5L420.8,173.2L421.3,171.0L421.8,168.7L422.3,166.4L422.8,164.2L423.2,161.9L423.7,159.7L424.2,157.4L424.7,155.1L425.2,152.9L425.8,150.6L426.3,148.3L426.8,146.1L427.3,143.8L427.9,141.6L428.4,139.3L428.9,137.0L429.5,134.8L430.1,132.5L430.6,130.2L431.2,128.0L431.8,125.7L432.4,123.5L433.0,121.2L433.6,118.9L434.2,116.7L434.8,114.4L435.4,112.1L436.0,109.9L436.7,107.6L437.3,105.4L438.0,103.1L438.7,100.8L439.4,98.6L440.1,96.3L440.8,94.0L441.5,91.8L442.2,89.5L442.9,87.3L443.7,85.0L444.4,82.7L445.2,80.5L446.0,78.2L446.7,75.9L447.5,73.7L448.3,71.4L449.0,69.2L449.8,66.9L450.6,64.6L451.3,62.4L452.1,60.1L452.9,57.9L453.6,55.6L454.3,53.3L455.1,51.1L455.8,48.8L456.5,46.5L457.2,44.3L457.8,42.0L458.5,39.8L459.1,37.5L459.3,35.2" fill="none" stroke="#d62728" stroke-width="3.6" stroke-linejoin="round"/><path d="M459.3,35.2L460.4,35.2L460.9,35.2L461.4,35.2L461.8,35.2L462.3,35.9L462.8,35.2L463.3,37.5L463.8,35.2L464.2,35.2L464.7,35.2L465.2,35.2L465.7,36.4L466.2,36.4L466.6,35.2L467.1,35.2L467.6,35.2L468.1,35.2L468.6,36.1L469.0,35.2L469.5,37.6L470.0,35.2L470.5,35.2L471.0,35.3L471.4,35.6L471.9,35.2L472.4,35.2L472.9,35.9L473.4,35.2L473.8,35.2L474.3,35.2L474.8,35.9L475.3,36.4L475.8,35.2L476.2,36.3L476.7,36.0L477.2,35.2L477.7,35.2L478.2,36.3L478.6,35.2L479.1,35.2L479.6,35.2L480.1,35.2L480.6,35.2L481.0,35.5L481.5,35.2L482.0,35.2L482.5,35.2L482.9,35.2L483.4,35.2L483.9,36.4L484.4,35.2L484.9,35.2L485.3,35.2L485.8,35.2L486.3,35.2L486.8,35.2L487.3,35.2L487.7,35.4L488.2,35.2L488.7,35.2L489.2,35.2L489.7,35.2L490.1,35.2L490.6,35.2L491.1,36.6L491.6,35.2L492.1,35.2L492.5,35.4L493.0,36.4L493.5,35.8L494.0,35.2L494.5,35.2L494.9,35.2L495.4,35.2L495.9,35.2L496.4,35.2L496.9,35.2L497.3,35.2L497.8,36.5L498.3,35.9L498.8,35.2L499.3,35.8L499.7,35.2L500.2,35.2L500.7,35.2L501.2,35.2L501.7,35.2L502.1,37.7L502.6,35.2L503.1,35.2L503.6,35.8L504.1,35.2L504.5,37.7L505.0,35.2L505.5,35.2L506.0,35.2L506.5,35.2L506.9,35.2L507.4,35.2L507.9,35.2L508.4,35.2L508.9,35.2L509.3,35.2L509.8,35.8L510.3,35.2L510.8,35.2L511.3,35.2L511.7,35.2L512.2,35.3L512.7,35.2L513.2,35.2L513.7,35.2L514.1,36.0L514.6,35.2L515.1,35.2L515.6,35.2L516.1,35.2L516.5,35.2L517.0,35.5L517.5,35.2L518.0,35.2L518.4,35.2L518.9,35.2L519.4,35.2L519.9,35.2L520.4,35.2L520.8,36.8L521.3,35.8L521.8,35.2L522.3,35.2L522.8,35.2L523.2,35.2L523.7,35.2L524.2,36.2L524.7,35.2L525.2,35.2L525.6,35.2L526.1,35.2L526.6,37.7L527.1,35.2L527.6,35.2L528.0,35.2L528.5,35.2L529.0,35.6L529.5,35.2L530.0,37.1L530.4,36.0L530.9,35.2L531.4,35.2L531.9,35.2L532.4,36.9L532.8,35.2L533.3,35.2L533.8,35.2L534.3,35.2L534.8,35.2L535.2,35.2L535.7,35.2L536.2,35.2L536.7,35.2L537.2,35.2L537.6,35.2L538.1,35.2L538.6,35.2L539.1,35.8L539.6,35.2L540.0,36.3L540.5,35.2L541.0,35.2L541.5,38.4L542.0,35.2L542.4,35.2L542.9,35.2L543.4,35.2L543.9,36.0L544.4,36.4L544.8,35.2L545.3,35.2L545.8,35.2L546.3,35.2L546.8,35.2L547.2,35.2L547.7,35.2L548.2,35.2L548.7,35.2L549.2,35.2L549.6,35.2L550.1,35.2L550.6,35.2L551.1,35.2L551.6,36.1L552.0,35.2L552.5,35.9L553.0,35.2L553.5,35.2L553.9,35.2L554.4,35.2L554.9,35.2L555.4,35.7L555.9,35.2L556.3,35.2L556.8,35.2L557.3,35.2L557.8,35.2L558.3,35.2L558.7,35.2L559.2,35.2L559.7,36.0L560.2,36.0L560.7,36.5L561.1,35.9L561.6,35.4L562.1,35.2L562.6,36.0L563.1,35.2L563.5,35.2L564.0,35.2L564.5,35.2L565.0,35.2L565.5,35.2L565.9,35.2L566.4,35.2L566.9,35.2L567.4,35.5L567.9,35.2L568.3,35.2L568.8,35.2L569.3,36.1L569.8,35.2L570.3,35.2L570.7,35.2L571.2,35.2L571.7,35.2L572.2,35.2L572.7,35.2L573.1,35.2L573.6,35.2L574.1,35.2L574.6,35.2L575.1,35.2L575.5,36.7L576.0,35.2L576.5,35.2L577.0,35.7L577.5,35.2L577.9,35.2L578.4,35.2L578.9,36.3L579.4,35.2L579.9,35.2L580.3,35.2L580.8,36.1L581.3,35.2L581.8,35.2L582.3,35.2L582.7,35.2L583.2,37.4L583.7,35.2L584.2,36.3L584.7,35.2L585.1,35.7L585.6,35.2L586.1,35.2L586.6,35.2L587.1,35.2L587.5,35.2L588.0,36.6L588.5,35.2L589.0,35.2L589.4,35.2L589.9,35.2L590.4,36.4L590.9,35.2L591.4,35.4L591.8,35.2L592.3,35.2L592.8,35.3L593.3,35.2L593.8,35.2L594.2,35.2L594.7,35.2L595.2,35.2L595.7,35.2L596.2,35.2L596.6,35.9L597.1,35.2L597.6,35.2L598.1,35.2L598.6,35.2L599.0,35.2L599.5,35.2L600.0,36.4L600.5,36.0L601.0,35.2L601.4,35.8L601.9,35.2L602.4,35.2L602.9,35.2L603.4,35.2L603.8,35.2L604.3,35.2L604.8,35.7L605.3,35.2L605.8,35.2L606.2,35.2L606.7,35.2L607.2,35.4L607.7,35.2L608.2,35.2L608.6,35.2L609.1,35.2L609.6,35.2L610.1,35.2L610.6,35.2L611.0,36.4L611.5,35.2L612.0,36.9L612.5,35.2L613.0,35.4L613.4,35.2L613.9,35.2L614.4,35.2L614.9,35.2L615.4,35.2L615.8,35.2L616.3,35.2L616.8,35.2L617.3,35.2L617.8,35.2L618.2,35.2L618.7,35.2L619.2,35.2L619.7,35.2L620.2,35.2L620.6,35.2L621.1,35.2L621.6,35.2L622.1,35.2L622.6,35.2L623.0,35.2L623.5,35.2L624.0,35.2L624.5,35.2L624.9,35.2L625.4,35.2L625.9,35.2L626.4,35.2L626.9,35.2L627.3,35.6L627.8,35.7L628.3,35.2L628.8,35.2L629.3,35.2L629.7,35.2L630.2,35.2L630.7,35.2L631.2,35.4L631.7,35.2L632.1,35.2L632.6,36.0L633.1,35.2L633.6,35.2L634.1,35.3L634.5,35.2L635.0,35.2L635.5,35.8L636.0,35.2L636.5,35.2L636.9,35.2L637.4,35.7L637.9,35.2L638.4,35.2L638.9,35.2L639.3,35.2L639.8,35.2L640.3,35.2L640.8,35.2L641.3,35.2L641.7,35.2L642.2,35.7L642.7,35.2L643.2,35.2L643.7,35.2L644.1,35.2L644.6,35.2L645.1,36.6L645.6,35.3L646.1,35.2L646.5,35.2L647.0,35.2L647.5,35.2L648.0,35.2L648.5,35.2L648.9,37.1L649.4,35.2L649.9,35.2L650.4,35.2L650.9,35.2L651.3,35.2L651.8,35.3L652.3,35.2L652.8,35.2L653.3,37.6L653.7,35.2L654.2,35.2L654.7,35.2L655.2,35.2L655.7,35.2L656.1,35.2L656.6,35.2L657.1,35.2L657.6,35.2L658.1,35.7L658.5,35.7L659.0,35.9L659.5,35.2L660.0,35.2L660.4,36.6L660.9,35.2L661.4,35.2L661.9,35.2L662.4,35.2L662.8,35.2L663.3,36.4L663.8,35.2L664.3,35.2L664.8,35.2L665.2,35.2L665.7,36.4L666.2,36.4L666.7,35.5L667.2,35.2L667.6,35.2L668.1,36.1L668.6,35.2L669.1,35.2L669.6,35.2L670.0,35.2L670.5,35.2L671.0,35.2L671.5,35.2L672.0,35.2L672.4,36.0L672.9,35.2L673.4,35.2L673.9,35.2L674.4,35.2L674.8,35.2L675.3,35.2L675.8,35.2" fill="none" stroke="#d62728" stroke-width="3.0" stroke-linejoin="round"/>
</g>
<line x1="405.2" y1="34.3" x2="405.2" y2="344.2" stroke="#4a4a4a" stroke-width="1.15"/>
<line x1="404.7" y1="343.7" x2="676.3" y2="343.7" stroke="#4a4a4a" stroke-width="1.15"/>
<line x1="405.20" y1="343.7" x2="405.20" y2="348.2" stroke="#4a4a4a" stroke-width="1.15"/>
<text x="405.20" y="362.0" text-anchor="middle" font-size="13.2" textLength="16.2" lengthAdjust="spacingAndGlyphs" class="t">0.0</text>
<line x1="400.7" y1="343.70" x2="405.2" y2="343.70" stroke="#4a4a4a" stroke-width="1.15"/>
<text x="394.7" y="347.70" text-anchor="end" font-size="13.2" textLength="16.2" lengthAdjust="spacingAndGlyphs" class="t">0.0</text>
<line x1="459.32" y1="343.7" x2="459.32" y2="348.2" stroke="#4a4a4a" stroke-width="1.15"/>
<text x="459.32" y="362.0" text-anchor="middle" font-size="13.2" textLength="16.2" lengthAdjust="spacingAndGlyphs" class="t">0.2</text>
<line x1="400.7" y1="281.82" x2="405.2" y2="281.82" stroke="#4a4a4a" stroke-width="1.15"/>
<text x="394.7" y="285.82" text-anchor="end" font-size="13.2" textLength="16.2" lengthAdjust="spacingAndGlyphs" class="t">0.2</text>
<line x1="513.44" y1="343.7" x2="513.44" y2="348.2" stroke="#4a4a4a" stroke-width="1.15"/>
<text x="513.44" y="362.0" text-anchor="middle" font-size="13.2" textLength="16.2" lengthAdjust="spacingAndGlyphs" class="t">0.4</text>
<line x1="400.7" y1="219.94" x2="405.2" y2="219.94" stroke="#4a4a4a" stroke-width="1.15"/>
<text x="394.7" y="223.94" text-anchor="end" font-size="13.2" textLength="16.2" lengthAdjust="spacingAndGlyphs" class="t">0.4</text>
<line x1="567.56" y1="343.7" x2="567.56" y2="348.2" stroke="#4a4a4a" stroke-width="1.15"/>
<text x="567.56" y="362.0" text-anchor="middle" font-size="13.2" textLength="16.2" lengthAdjust="spacingAndGlyphs" class="t">0.6</text>
<line x1="400.7" y1="158.06" x2="405.2" y2="158.06" stroke="#4a4a4a" stroke-width="1.15"/>
<text x="394.7" y="162.06" text-anchor="end" font-size="13.2" textLength="16.2" lengthAdjust="spacingAndGlyphs" class="t">0.6</text>
<line x1="621.68" y1="343.7" x2="621.68" y2="348.2" stroke="#4a4a4a" stroke-width="1.15"/>
<text x="621.68" y="362.0" text-anchor="middle" font-size="13.2" textLength="16.2" lengthAdjust="spacingAndGlyphs" class="t">0.8</text>
<line x1="400.7" y1="96.18" x2="405.2" y2="96.18" stroke="#4a4a4a" stroke-width="1.15"/>
<text x="394.7" y="100.18" text-anchor="end" font-size="13.2" textLength="16.2" lengthAdjust="spacingAndGlyphs" class="t">0.8</text>
<line x1="675.80" y1="343.7" x2="675.80" y2="348.2" stroke="#4a4a4a" stroke-width="1.15"/>
<text x="675.80" y="362.0" text-anchor="middle" font-size="13.2" textLength="16.2" lengthAdjust="spacingAndGlyphs" class="t">1.0</text>
<line x1="400.7" y1="34.30" x2="405.2" y2="34.30" stroke="#4a4a4a" stroke-width="1.15"/>
<text x="394.7" y="38.30" text-anchor="end" font-size="13.2" textLength="16.2" lengthAdjust="spacingAndGlyphs" class="t">1.0</text>
<text x="540.50" y="19.2" text-anchor="middle" font-size="16.3" font-weight="bold" textLength="136.5" lengthAdjust="spacingAndGlyphs" fill="#000">External datasets</text>
<text x="540.50" y="380.3" text-anchor="middle" font-size="13.9" textLength="115" lengthAdjust="spacingAndGlyphs" class="t">False positive rate</text>
<text transform="translate(368.10,190.00) rotate(-90)" x="0" y="0" text-anchor="middle" font-size="13.9" textLength="112" lengthAdjust="spacingAndGlyphs" class="t">True positive rate</text>
<line x1="506.50" y1="280.40" x2="528.80" y2="280.40" stroke="#1f77b4" stroke-width="2.3" stroke-linecap="round"/>
<text x="537.60" y="284.60" font-size="12.6" textLength="65.5" lengthAdjust="spacingAndGlyphs" class="t">UNI (0.896)</text>
<line x1="506.50" y1="296.30" x2="528.80" y2="296.30" stroke="#ff7f0e" stroke-width="2.3" stroke-linecap="round"/>
<text x="537.60" y="300.50" font-size="12.6" textLength="86.8" lengthAdjust="spacingAndGlyphs" class="t">CONCH (0.903)</text>
<line x1="506.50" y1="312.20" x2="528.80" y2="312.20" stroke="#2ca02c" stroke-width="2.3" stroke-linecap="round"/>
<text x="537.60" y="316.40" font-size="12.6" textLength="94.9" lengthAdjust="spacingAndGlyphs" class="t">Virchow2 (0.910)</text>
<line x1="506.50" y1="328.10" x2="528.80" y2="328.10" stroke="#d62728" stroke-width="3.3" stroke-linecap="round"/>
<text x="537.60" y="332.30" font-size="12.6" textLength="129.3" lengthAdjust="spacingAndGlyphs" class="t">UAD-FM (Ours) (0.933)</text>
</svg>
</body></html>
